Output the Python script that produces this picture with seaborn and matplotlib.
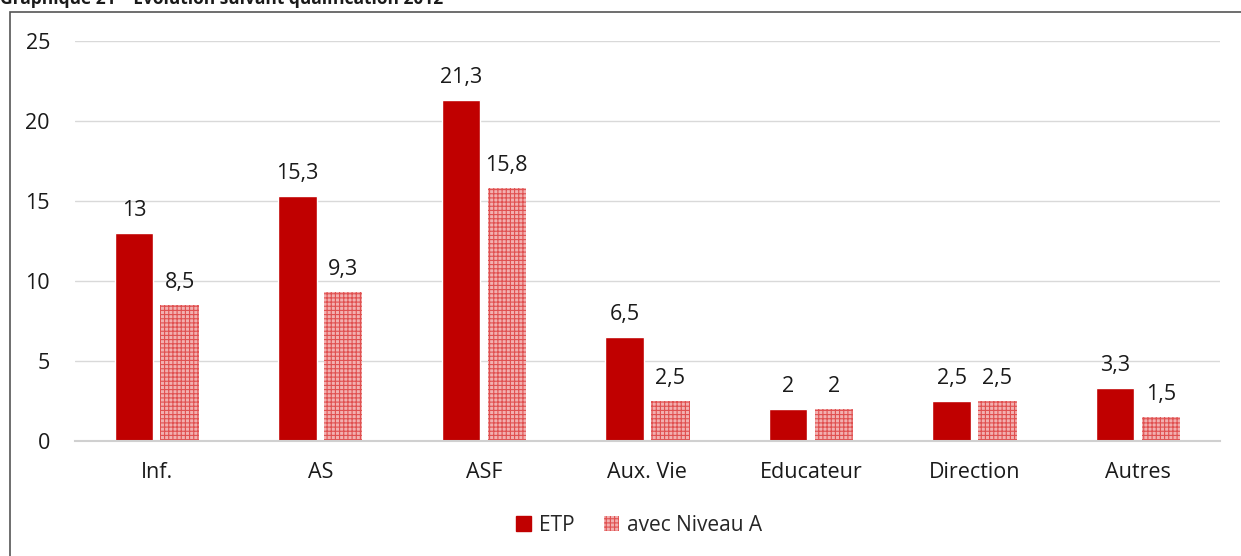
import numpy as np
import pandas as pd
import matplotlib.pyplot as plt
import seaborn as sns
from matplotlib.patches import Rectangle, Patch

categories = ["Inf.", "AS", "ASF", "Aux. Vie", "Educateur", "Direction", "Autres"]
etp = [13, 15.3, 21.3, 6.5, 2, 2.5, 3.3]
niveau_a = [8.5, 9.3, 15.8, 2.5, 2, 2.5, 1.5]
series = ["ETP", "avec Niveau A"]

df = pd.DataFrame({
    "cat": categories * 2,
    "serie": [series[0]] * len(categories) + [series[1]] * len(categories),
    "val": etp + niveau_a,
})

sns.set_style("white")
plt.rcParams["font.family"] = ["Open Sans", "DejaVu Sans"]
plt.rcParams["hatch.linewidth"] = 0.8

red = "#c00000"
pink = "#f2b0b0"

fig = plt.figure(figsize=(12.41, 5.56), dpi=100)
ax = fig.add_axes([0.0604, 0.2068, 0.9226, 0.7194])

sns.barplot(data=df, x="cat", y="val", hue="serie", order=categories,
            hue_order=series, palette=[red, pink], width=0.56, gap=0.16,
            saturation=1, legend=False, ax=ax)

# hatch for second series
for bar in ax.containers[1]:
    bar.set_hatch("++++")
    bar.set_edgecolor("#e05050")
    bar.set_linewidth(0)

for cont in ax.containers:
    labels = [f"{v:g}".replace(".", ",") for v in cont.datavalues]
    ax.bar_label(cont, labels=labels, padding=9, fontsize=15.5, color="#1a1a1a")

ax.set_ylim(0, 25)
ax.set_yticks([0, 5, 10, 15, 20, 25])
ax.set_xlim(-0.5, len(categories) - 0.5)
ax.yaxis.grid(True, color="#d9d9d9", linewidth=1)
ax.set_axisbelow(True)
for s in ["left", "right", "top"]:
    ax.spines[s].set_visible(False)
ax.spines["bottom"].set_color("#d0d0d0")
ax.spines["bottom"].set_linewidth(1.5)
ax.tick_params(axis="both", length=0, labelsize=15.5, colors="#1a1a1a")
ax.tick_params(axis="y", pad=18)
ax.tick_params(axis="x", pad=15)
ax.set_xlabel("")
ax.set_ylabel("")

handles = [Patch(facecolor=red, edgecolor=red),
           Patch(facecolor=pink, edgecolor="#e05050", hatch="++++", linewidth=0)]
fig.legend(handles, series, loc="center", bbox_to_anchor=(0.515, 0.055),
           ncol=2, frameon=False, fontsize=15, handlelength=0.7,
           handleheight=0.7, handletextpad=0.4, columnspacing=1.4)

# frame around the chart
fig.patches.append(Rectangle((10 / 1241, -0.02), 1.0, 1 - 12 / 556 + 0.02,
                             transform=fig.transFigure, fill=False,
                             edgecolor="#555555", linewidth=1.2))
fig.text(0.0, 1 - 4 / 556, "Graphique 21 – Evolution suivant qualification 2012",
         fontsize=12.5, fontweight="bold", va="baseline", ha="left", color="#1a1a1a")

fig.savefig("out.png", dpi=100)
